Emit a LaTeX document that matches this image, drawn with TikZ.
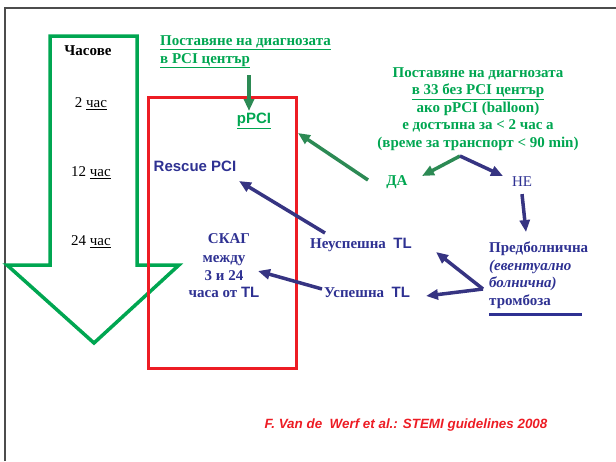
\documentclass[tikz,border=0pt]{standalone}
\usepackage{fontspec}
\setmainfont{Liberation Serif}
\setsansfont{Liberation Sans}
\definecolor{stemigreen}{RGB}{0,166,81}
\definecolor{arrowgreen}{RGB}{44,138,84}
\definecolor{stemiblue}{RGB}{46,49,146}
\definecolor{arrowblue}{RGB}{54,52,130}
\definecolor{stemired}{RGB}{237,28,36}
\usetikzlibrary{arrows.meta, positioning}

\begin{document}
\fontsize{15}{17.5}\selectfont
\begin{tikzpicture}[x=1pt,y=-1pt,
	every node/.style={inner sep=2pt},
	garrow/.style={draw=arrowgreen, line width=3.5pt, -{Triangle[length=12pt,width=10pt]}},
	barrow/.style={draw=arrowblue, line width=3.5pt, -{Triangle[length=12pt,width=10pt]}}]
	\useasboundingbox (0,0) rectangle (616,461);
	% frame
	\draw[black!70, line width=2.5pt] (5,461) -- (5,8) -- (616,8);
	% time arrow
	\draw[stemigreen, line width=3.5pt] (50,36) -- (137,36) -- (137,265) -- (179,265) -- (94,343) -- (7,265) -- (50,265) -- cycle;
	\node (hours) at (88,51) [font=\bfseries] {Часове};
	\node (h2) at (91,104) {2 \underline{час}};
	\node (h12) at (91,173) {12 \underline{час}};
	\node (h24) at (91,242) {24 \underline{час}};
	% PCI centre
	\draw[stemired, line width=3pt] (148,97) rectangle (296,368);
	\node (pcidiag) at (158,52) [anchor=west, align=left, text=stemigreen, font=\bfseries] {\underline{Поставяне на диагнозата}\\\underline{в PCI център}};
	\node (ppci) at (254,121) [text=stemigreen, font=\sffamily\bfseries] {\underline{pPCI}};
	\node (rescue) at (195,166) [text=stemiblue, font=\sffamily\bfseries] {Rescue PCI};
	\node (skag) at (229,239) [text=stemiblue, font=\bfseries] {СКАГ};
	\node (skagtime) at (224,277) [text=stemiblue, font=\bfseries, align=center] {между\\3 и 24\\часа от \textsf{TL}};
	% non-PCI hospital
	\node (diag33) at (478,109) [text=stemigreen, font=\bfseries, align=center] {Поставяне на диагнозата\\\underline{в 33 без PCI център}\\ако pPCI (balloon)\\е достъпна за < 2 час а\\(време за транспорт < 90 min)};
	\node (da) at (397,182) [text=stemigreen, font=\bfseries] {ДА};
	\node (ne) at (522,182) [text=stemiblue] {НЕ};
	\node (neusp) at (361,245) [text=stemiblue, font=\bfseries] {Неуспешна\ \ \textsf{TL}};
	\node (usp) at (367,292) [text=stemiblue, font=\bfseries] {Успешна\ \ \textsf{TL}};
	\node (preb) at (487,275) [anchor=west, align=left, text=stemiblue, font=\bfseries] {Предболнична\\\textit{(евентуално}\\\textit{болнична)}\\тромбоза};
	\draw[stemiblue, line width=3pt] (preb.south west) ++(2,4) -- ++(93,0);
	\node (cite) at (406,425) [text=stemired, font=\sffamily\bfseries\itshape\fontsize{13.4}{15}\selectfont] {F. Van de\ \ Werf et al.: STEMI guidelines 2008};
	% connectors
	\coordinate (apex) at (460,156);
	\coordinate (datip) at (422,176);
	\coordinate (netip) at (503,176);
	\coordinate (datail) at (368,180);
	\coordinate (ppcitip) at (298,133);
	\coordinate (gtop) at (249,75);
	\coordinate (prebtip) at (526,232);
	\coordinate (neusptail) at (325,233);
	\coordinate (rescuetip) at (239,181);
	\coordinate (usptail) at (322,289);
	\coordinate (skagtip) at (258,271);
	\coordinate (prebtail) at (483,289);
	\coordinate (usptip) at (426,296);
	\coordinate (neusptip) at (436,252);
	\draw[garrow] (gtop) -- (gtop |- ppci.north);
	\draw[garrow] (apex) -- (datip);
	\draw[barrow] (apex) -- (netip);
	\draw[garrow] (datail) -- (ppcitip);
	\draw[barrow] (ne.south) ++(0,5) -- (prebtip);
	\draw[barrow] (neusptail) -- (rescuetip);
	\draw[barrow] (usptail) -- (skagtip);
	\draw[barrow] (prebtail) -- (usptip);
	\draw[barrow] (prebtail) -- (neusptip);
\end{tikzpicture}
\end{document}
